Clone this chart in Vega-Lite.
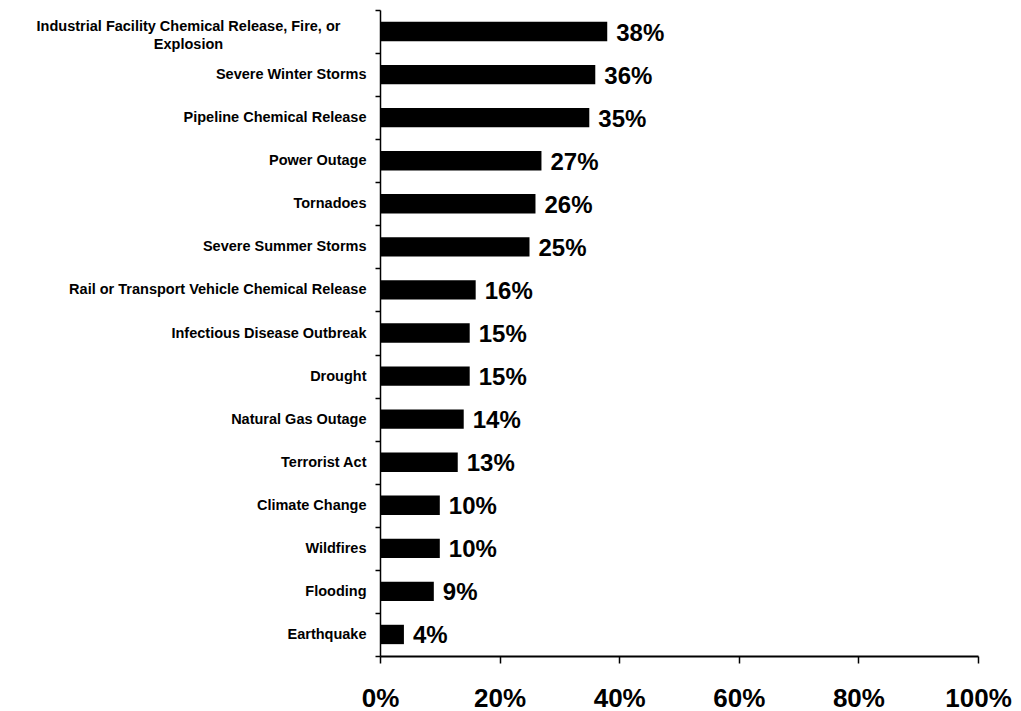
{
  "$schema": "https://vega.github.io/schema/vega-lite/v6.json",
  "width": 598,
  "height": 646,
  "autosize": {"type": "none"},
  "padding": {"left": 380, "top": 10, "right": 43, "bottom": 55},
  "background": "white",
  "config": {"view": {"stroke": null}, "font": "Liberation Sans"},
  "data": {
    "values": [
      {"hazard": "Industrial Facility Chemical Release, Fire, or Explosion", "pct": 0.38},
      {"hazard": "Severe Winter Storms", "pct": 0.36},
      {"hazard": "Pipeline Chemical Release", "pct": 0.35},
      {"hazard": "Power Outage", "pct": 0.27},
      {"hazard": "Tornadoes", "pct": 0.26},
      {"hazard": "Severe Summer Storms", "pct": 0.25},
      {"hazard": "Rail or Transport Vehicle Chemical Release", "pct": 0.16},
      {"hazard": "Infectious Disease Outbreak", "pct": 0.15},
      {"hazard": "Drought", "pct": 0.15},
      {"hazard": "Natural Gas Outage", "pct": 0.14},
      {"hazard": "Terrorist Act", "pct": 0.13},
      {"hazard": "Climate Change", "pct": 0.10},
      {"hazard": "Wildfires", "pct": 0.10},
      {"hazard": "Flooding", "pct": 0.09},
      {"hazard": "Earthquake", "pct": 0.04}
    ]
  },
  "encoding": {
    "y": {
      "field": "hazard",
      "type": "nominal",
      "sort": null,
      "scale": {"paddingInner": 0, "paddingOuter": 0},
      "axis": {
        "title": null,
        "domainColor": "black",
        "domainWidth": 1.5,
        "tickColor": "black",
        "tickWidth": 1.5,
        "tickSize": 5,
        "tickBand": "extent",
        "labelPadding": {"condition": {"test": "datum.value == 'Industrial Facility Chemical Release, Fire, or Explosion'", "value": 187}, "value": 9},
        "labelAlign": {"condition": {"test": "datum.value == 'Industrial Facility Chemical Release, Fire, or Explosion'", "value": "center"}, "value": "right"},
        "labelOffset": {"condition": {"test": "datum.value == 'Industrial Facility Chemical Release, Fire, or Explosion'", "value": -5}, "value": 0},
        "labelFont": "Liberation Sans",
        "labelFontSize": 14.5,
        "labelFontWeight": "bold",
        "labelColor": "black",
        "labelLimit": 500,
        "labelLineHeight": 18,
        "labelExpr": "datum.value == 'Industrial Facility Chemical Release, Fire, or Explosion' ? ['Industrial Facility Chemical Release, Fire, or', 'Explosion'] : datum.label"
      }
    }
  },
  "layer": [
    {
      "mark": {"type": "bar", "color": "black", "height": {"band": 0.45}},
      "encoding": {
        "x": {
          "field": "pct",
          "type": "quantitative",
          "scale": {"domain": [0, 1], "nice": false},
          "axis": {
            "title": null,
            "values": [0, 0.2, 0.4, 0.6, 0.8, 1],
            "format": ".0%",
            "grid": false,
            "domainColor": "black",
            "domainWidth": 2,
            "tickColor": "black",
            "tickWidth": 1.5,
            "tickSize": 7,
            "labelPadding": 22,
            "labelFont": "Liberation Sans",
            "labelFontSize": 26,
            "labelFontWeight": "bold",
            "labelColor": "black",
            "labelFlush": false,
            "labelOverlap": false
          }
        }
      }
    },
    {
      "mark": {"type": "text", "align": "left", "baseline": "middle", "dx": 9, "dy": 2, "font": "Liberation Sans", "fontSize": 24, "fontWeight": "bold", "color": "black"},
      "encoding": {
        "x": {"field": "pct", "type": "quantitative"},
        "text": {"field": "pct", "type": "quantitative", "format": ".0%"}
      }
    }
  ]
}
